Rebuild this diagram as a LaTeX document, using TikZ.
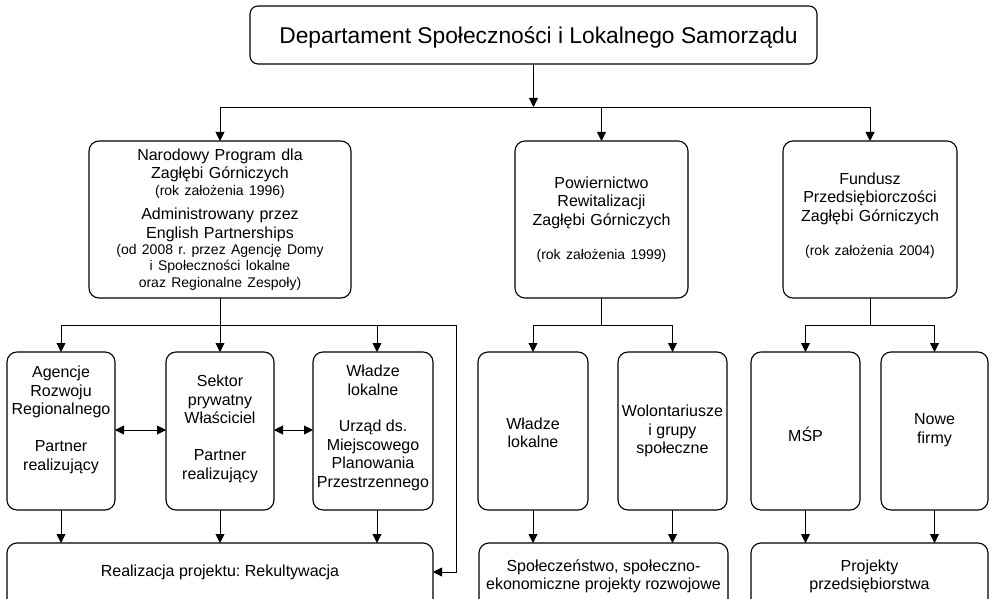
\documentclass[tikz,border=0pt]{standalone}
\usepackage{fontspec}
\setmainfont{Liberation Sans}
\usetikzlibrary{arrows.meta}
\frenchspacing

% text sizes used in the chart
\newcommand\fsmain{\fontsize{16}{18.5}\selectfont}
\newcommand\fssmall{\fontsize{14}{16.3}\selectfont}
\newcommand\fstop{\fontsize{22.8}{26}\selectfont}

\begin{document}
\begin{tikzpicture}[x=1pt,y=-1pt,
  panel/.style={draw, line width=1.1pt, rounded corners=10pt, inner sep=0pt,
    outer sep=0pt, anchor=north west},
  txt/.style={align=center, inner sep=0pt, font=\fsmain},
  link/.style={line width=0.9pt},
  arr/.style={link, -{Triangle[length=9pt,width=9pt]}},
  darr/.style={link, {Triangle[length=9pt,width=9pt]}-{Triangle[length=9pt,width=9pt]}},
]
\useasboundingbox (0,0) rectangle (990,599);

% ---- top level -------------------------------------------------------
\node[panel, rounded corners=8pt, minimum width=567pt, minimum height=58pt]
  (top) at (250,6) {};
\node[txt, font=\fstop] (top-t) at ([xshift=5pt,yshift=-2pt]top.center) {Departament Społeczności i Lokalnego Samorządu};

% ---- second level ----------------------------------------------------
\node[panel, minimum width=262pt, minimum height=157pt] (np) at (89,141) {};
\node[txt, text width=250pt] (np-t) at (np.center) {%
  Narodowy Program dla\\Zagłębi Górniczych\par
  {\fssmall (rok założenia 1996)\par}
  \vspace{6pt}
  Administrowany przez\\English Partnerships\par
  {\fssmall (od 2008 r. przez Agencję Domy\\i Społeczności lokalne\\oraz Regionalne Zespoły)\par}};

\node[panel, minimum width=173pt, minimum height=157pt] (pow) at (515,141) {};
\node[txt, text width=170pt] (pow-t) at (pow.center) {%
  Powiernictwo\\Rewitalizacji\\Zagłębi Górniczych\par
  \vspace{18pt}
  {\fssmall (rok założenia 1999)\par}};

\node[panel, minimum width=174pt, minimum height=157pt] (fun) at (783,141) {};
\node[txt, text width=170pt] (fun-t) at ([yshift=4pt]fun.center) {%
  Fundusz\\Przedsiębiorczości\\Zagłębi Górniczych\par
  \vspace{18pt}
  {\fssmall (rok założenia 2004)\par}};

% ---- third level -----------------------------------------------------
\node[panel, minimum width=108pt, minimum height=158pt] (ag) at (7,352) {};
\node[txt] (ag-t) at ([yshift=11pt]ag.center)
  {Agencje\\Rozwoju\\Regionalnego\\[18.5pt]Partner\\realizujący};

\node[panel, minimum width=108pt, minimum height=158pt] (sek) at (166,352) {};
\node[txt] (sek-t) at ([yshift=2pt]sek.center)
  {Sektor\\prywatny\\Właściciel\\[18.5pt]Partner\\realizujący};

\node[panel, minimum width=120pt, minimum height=158pt] (wl1) at (313,352) {};
\node[txt] (wl1-t) at ([yshift=3pt]wl1.center)
  {Władze\\lokalne\\[18pt]Urząd ds.\\Miejscowego\\Planowania\\Przestrzennego};

\node[panel, minimum width=110pt, minimum height=158pt] (wl2) at (478,352) {};
\node[txt] (wl2-t) at ([yshift=-2pt]wl2.center) {Władze\\lokalne};

\node[panel, minimum width=109pt, minimum height=158pt] (wol) at (618,352) {};
\node[txt] (wol-t) at (wol.center) {Wolontariusze\\i grupy\\społeczne};

\node[panel, minimum width=109pt, minimum height=158pt] (msp) at (751,352) {};
\node[txt] (msp-t) at ([yshift=-3pt]msp.center) {MŚP};

\node[panel, minimum width=107pt, minimum height=158pt] (nowe) at (881,352) {};
\node[txt] (nowe-t) at ([yshift=1pt]nowe.center) {Nowe\\firmy};

% ---- results (bottom row, running off the lower edge) ----------------
\node[panel, minimum width=426pt, minimum height=80pt] (real) at (7,543) {};
\node[txt] (real-t) at (220,572) {Realizacja projektu: Rekultywacja};

\node[panel, minimum width=249pt, minimum height=80pt] (spol) at (479,543) {};
\node[txt] (spol-t) at (603.5,576.5) {Społeczeństwo, społeczno-\\ekonomiczne projekty rozwojowe};

\node[panel, minimum width=237pt, minimum height=80pt] (proj) at (751,543) {};
\node[txt] (proj-t) at (869.5,576.5) {Projekty\\przedsiębiorstwa};

% ---- helper coordinates for the bus lines ----------------------------
\coordinate (bus0) at (0,107);
\coordinate (bus1) at (0,325);
\coordinate (mid) at (0,430);
\coordinate (ret) at (0,572);
\coordinate (loop) at (456,325);
\coordinate (wl1x) at (377,0);

% ---- connectors: top level -------------------------------------------
\draw[arr] (top.south) -- (top.south |- bus0);
\draw[link] (np.north |- bus0) -- (fun.north |- bus0);
\draw[arr] (np.north |- bus0) -- (np.north);
\draw[arr] (pow.north |- bus0) -- (pow.north);
\draw[arr] (fun.north |- bus0) -- (fun.north);

% ---- connectors: national programme ----------------------------------
\draw[link] (np.south) -- (np.south |- bus1);
\draw[link] (ag.north |- bus1) -- (loop);
\draw[arr] (ag.north |- bus1) -- (ag.north);
\draw[arr] (sek.north |- bus1) -- (sek.north);
\draw[arr] (wl1x |- bus1) -- (wl1x |- wl1.north);
\draw[arr] (loop) |- (real.east |- ret);
\draw[darr] (ag.east |- mid) -- (sek.west |- mid);
\draw[darr] (sek.east |- mid) -- (wl1.west |- mid);
\draw[arr] (ag.south) -- (ag.south |- real.north);
\draw[arr] (sek.south) -- (sek.south |- real.north);
\draw[arr] (wl1x |- wl1.south) -- (wl1x |- real.north);

% ---- connectors: regeneration trust ----------------------------------
\draw[link] (pow.south) -- (pow.south |- bus1);
\draw[link] (wl2.north |- bus1) -- (wol.north |- bus1);
\draw[arr] (wl2.north |- bus1) -- (wl2.north);
\draw[arr] (wol.north |- bus1) -- (wol.north);
\draw[arr] (wl2.south) -- (wl2.south |- spol.north);
\draw[arr] (wol.south) -- (wol.south |- spol.north);

% ---- connectors: enterprise fund -------------------------------------
\draw[link] (fun.south) -- (fun.south |- bus1);
\draw[link] (msp.north |- bus1) -- (nowe.north |- bus1);
\draw[arr] (msp.north |- bus1) -- (msp.north);
\draw[arr] (nowe.north |- bus1) -- (nowe.north);
\draw[arr] (msp.south) -- (msp.south |- proj.north);
\draw[arr] (nowe.south) -- (nowe.south |- proj.north);
\end{tikzpicture}
\end{document}
